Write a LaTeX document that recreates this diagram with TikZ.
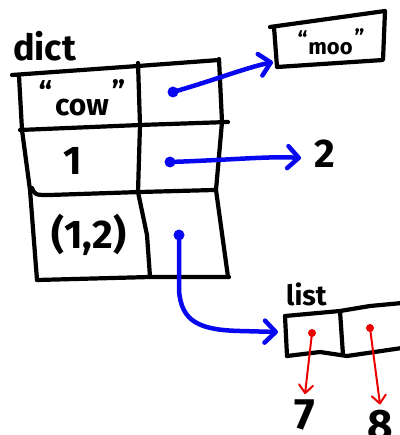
\documentclass[tikz,border=0pt]{standalone}
\usepackage{fontspec}
\setmainfont{Fira Sans}
\usetikzlibrary{arrows.meta}
\definecolor{pblue}{RGB}{8,8,240}
\definecolor{pred}{RGB}{235,0,0}
\begin{document}
\begin{tikzpicture}[x=1pt,y=-1pt,
  ink/.style={line width=4.2pt, line cap=round, line join=round, black},
  txt/.style={inner sep=0pt, anchor=base},
  bdot/.style={circle, fill=pblue, inner sep=0pt, minimum size=11pt},
  rdot/.style={circle, fill=pred, inner sep=0pt, minimum size=8pt},
  barrow/.style={draw=pblue, line width=4.5pt, line cap=round, line join=round,
    -{Straight Barb[length=11pt,width=22pt,line width=4.5pt,round]}},
  rarrow/.style={draw=pred, line width=2pt, line cap=round,
    -{Straight Barb[length=8pt,width=14pt,line width=2pt,round]}}]
\fill[white] (0,0) rectangle (399,435);
\useasboundingbox (0,0) rectangle (399,435);

% dict table
\draw[ink] (12,75) -- (138,66) -- (219,60);
\draw[ink] (19,76) -- (22,130) -- (30,190) -- (37,280);
\draw[ink] (20,130) -- (140,125) -- (228,122);
\draw[ink] (32,188) .. controls (35,195) .. (50,195) -- (140,192) -- (214,190);
\draw[ink] (37,280) -- (150,277) -- (229,277);
\draw[ink] (138,63) -- (140,125) -- (138,192) -- (147,235) -- (150,277);
\draw[ink] (219,59) -- (222,122) -- (216,190) -- (228,277);

\node[txt, anchor=base west, font=\bfseries\fontsize{36}{36}\selectfont] (dict) at (13,61) {dict};
\node[txt, font=\bfseries\fontsize{30}{30}\selectfont] (cow) at (82,116) {\raisebox{12pt}{“}\hspace{3pt}cow\hspace{3pt}\raisebox{13pt}{”}};
\node[txt, font=\bfseries\fontsize{40}{40}\selectfont] (one) at (73,175) {1};
\node[txt, font=\bfseries\fontsize{40}{40}\selectfont] (tup) at (89,248) {(1,2)};

% value dots
\node[bdot] (d1) at (173,92) {};
\node[bdot] (d2) at (170,162) {};
\node[bdot] (d3) at (179,235) {};

% "moo" box
\draw[ink] (270,27) -- (385,11) -- (383,60) -- (277,67) -- (274,27);
\node[txt, font=\bfseries\fontsize{22}{22}\selectfont] (moo) at (331,55) {\raisebox{7pt}{“}\hspace{1pt}moo\hspace{2pt}\raisebox{9pt}{”}};
\coordinate (mooin) at (273,62);

% 2
\node[txt, font=\bfseries\fontsize{40}{40}\selectfont] (two) at (325,168) {2};
\coordinate (twoin) at (301,158);

% list
\node[txt, anchor=base west, font=\bfseries\fontsize{28}{28}\selectfont] (list) at (286,305) {list};
\draw[ink] (285,316) -- (340,311) -- (370,306) -- (402,303);
\draw[ink] (285,316) -- (287,356);
\draw[ink] (287,356) -- (320,352) -- (347,356) -- (402,348);
\draw[ink] (340,311) -- (343,355);
\coordinate (listin) at (278,332);
\node[rdot] (r1) at (312,333) {};
\node[rdot] (r2) at (370,328) {};

\node[txt, font=\bfseries\fontsize{44}{44}\selectfont] (seven) at (305,429) {7};
\node[txt, font=\bfseries\fontsize{44}{44}\selectfont] (eight) at (380,440) {8};

% connectors
\draw[barrow] (d1.center) .. controls (215,80) and (245,68) .. (mooin);
\draw[barrow] (d2.center) .. controls (230,160) and (270,156) .. (twoin);
\draw[barrow] (d3.center) -- (179,290) .. controls (181,322) and (200,330) .. (240,331) -- (listin);
\draw[rarrow] (r1.center) -- ([yshift=5pt]seven.north);
\draw[rarrow] (r2.center) -- ([yshift=5pt]eight.north);
\end{tikzpicture}
\end{document}
